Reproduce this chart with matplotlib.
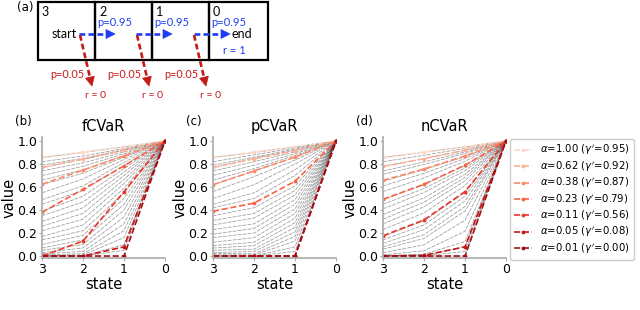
import matplotlib.pyplot as plt
import numpy as np
from matplotlib.patches import Rectangle, Polygon

plt.rcParams["font.family"] = ["DejaVu Sans"]

# x positions of the chain states (state 3 on the left)
states = [3, 2, 1, 0]

alpha_labels = ["1.00", "0.62", "0.38", "0.23", "0.11", "0.05", "0.01"]
gamma_labels = ["0.95", "0.92", "0.87", "0.79", "0.56", "0.08", "0.00"]

# highlighted alpha curves, values at states 3, 2, 1, 0
fcvar_red = [
    [0.857, 0.903, 0.950, 1.0],
    [0.770, 0.843, 0.919, 1.0],
    [0.625, 0.747, 0.870, 1.0],
    [0.380, 0.580, 0.783, 1.0],
    [0.000, 0.130, 0.560, 1.0],
    [0.000, 0.000, 0.080, 1.0],
    [0.000, 0.000, 0.000, 1.0],
]
pcvar_red = [
    [0.857, 0.903, 0.950, 1.0],
    [0.770, 0.845, 0.915, 1.0],
    [0.620, 0.740, 0.860, 1.0],
    [0.390, 0.460, 0.650, 1.0],
    [0.000, 0.000, 0.000, 1.0],
    [0.000, 0.000, 0.000, 1.0],
    [0.000, 0.000, 0.000, 1.0],
]
ncvar_red = [
    [0.857, 0.903, 0.950, 1.0],
    [0.779, 0.846, 0.920, 1.0],
    [0.658, 0.757, 0.870, 1.0],
    [0.493, 0.624, 0.790, 1.0],
    [0.176, 0.314, 0.560, 1.0],
    [0.001, 0.006, 0.080, 1.0],
    [0.000, 0.000, 0.000, 1.0],
]

# background curves (gray), values at states 3, 2, 1, 0
fcvar_gray = [
    [0.857, 0.90, 0.950, 1.0], [0.82, 0.87, 0.935, 1.0], [0.79, 0.85, 0.925, 1.0],
    [0.77, 0.84, 0.920, 1.0], [0.74, 0.81, 0.905, 1.0], [0.70, 0.78, 0.890, 1.0],
    [0.66, 0.75, 0.875, 1.0], [0.62, 0.72, 0.860, 1.0], [0.55, 0.67, 0.840, 1.0],
    [0.49, 0.61, 0.815, 1.0], [0.45, 0.57, 0.790, 1.0], [0.39, 0.52, 0.760, 1.0],
    [0.35, 0.47, 0.730, 1.0], [0.30, 0.42, 0.700, 1.0], [0.26, 0.37, 0.665, 1.0],
    [0.22, 0.32, 0.630, 1.0], [0.17, 0.27, 0.590, 1.0], [0.14, 0.22, 0.550, 1.0],
    [0.10, 0.18, 0.500, 1.0], [0.07, 0.14, 0.450, 1.0], [0.05, 0.10, 0.400, 1.0],
    [0.03, 0.07, 0.340, 1.0], [0.02, 0.04, 0.280, 1.0], [0.01, 0.02, 0.220, 1.0],
    [0.00, 0.01, 0.160, 1.0], [0.00, 0.00, 0.100, 1.0], [0.00, 0.00, 0.050, 1.0],
]
pcvar_gray = [
    [0.857, 0.90, 0.950, 1.0], [0.82, 0.88, 0.940, 1.0], [0.79, 0.86, 0.930, 1.0],
    [0.77, 0.85, 0.920, 1.0], [0.74, 0.82, 0.905, 1.0], [0.70, 0.79, 0.890, 1.0],
    [0.66, 0.76, 0.875, 1.0], [0.62, 0.74, 0.860, 1.0], [0.56, 0.69, 0.835, 1.0],
    [0.50, 0.62, 0.800, 1.0], [0.45, 0.55, 0.750, 1.0], [0.42, 0.50, 0.700, 1.0],
    [0.35, 0.42, 0.610, 1.0], [0.31, 0.37, 0.570, 1.0], [0.27, 0.33, 0.530, 1.0],
    [0.23, 0.28, 0.490, 1.0], [0.19, 0.24, 0.450, 1.0], [0.16, 0.20, 0.410, 1.0],
    [0.12, 0.16, 0.370, 1.0], [0.09, 0.12, 0.330, 1.0], [0.07, 0.09, 0.290, 1.0],
    [0.05, 0.06, 0.250, 1.0], [0.03, 0.04, 0.210, 1.0], [0.02, 0.02, 0.170, 1.0],
    [0.01, 0.01, 0.130, 1.0], [0.00, 0.00, 0.080, 1.0], [0.00, 0.00, 0.040, 1.0],
]
ncvar_gray = [
    [0.857, 0.903, 0.950, 1.0], [0.82, 0.876, 0.936, 1.0], [0.78, 0.847, 0.920, 1.0],
    [0.74, 0.818, 0.905, 1.0], [0.71, 0.796, 0.892, 1.0], [0.65, 0.750, 0.866, 1.0],
    [0.61, 0.719, 0.848, 1.0], [0.56, 0.679, 0.824, 1.0], [0.49, 0.621, 0.788, 1.0],
    [0.45, 0.587, 0.766, 1.0], [0.41, 0.552, 0.743, 1.0], [0.36, 0.506, 0.711, 1.0],
    [0.32, 0.468, 0.684, 1.0], [0.28, 0.428, 0.654, 1.0], [0.23, 0.375, 0.613, 1.0],
    [0.17, 0.307, 0.554, 1.0], [0.14, 0.270, 0.519, 1.0], [0.11, 0.229, 0.479, 1.0],
    [0.08, 0.186, 0.431, 1.0], [0.06, 0.153, 0.391, 1.0], [0.03, 0.097, 0.311, 1.0],
    [0.01, 0.046, 0.215, 1.0], [0.002, 0.016, 0.126, 1.0], [0.00, 0.006, 0.080, 1.0],
    [0.00, 0.002, 0.040, 1.0], [0.00, 0.000, 0.000, 1.0],
]

red_colors = plt.cm.Reds(np.linspace(0.16, 0.88, len(alpha_labels)))
BLUE = "#1f3cf5"
DRED = "#c41a1a"


def draw_panel(ax, gray, red, title, tag):
    for row in gray:
        ax.plot(states, row, color="k", lw=0.55, alpha=0.4, ls=(0, (5, 1.5)))
    handles = []
    for row, c, a, g in zip(red, red_colors, alpha_labels, gamma_labels):
        h, = ax.plot(states, row, color=c, lw=1.2, ls="--", marker=".", ms=3.5,
                     label=rf"$\alpha$={a} ($\gamma'$={g})")
        handles.append(h)
    ax.set_xlim(3, 0)
    ax.set_ylim(-0.017, 1.035)
    ax.set_xticks(states)
    ax.set_yticks([0.0, 0.2, 0.4, 0.6, 0.8, 1.0])
    ax.set_title(title, fontsize=10.5, pad=4)
    ax.set_xlabel("state", fontsize=10.5, labelpad=0.5)
    ax.set_ylabel("value", fontsize=10.5, labelpad=0.5)
    for s in ("top", "right"):
        ax.spines[s].set_visible(False)
    for s in ("left", "bottom"):
        ax.spines[s].set_color("#b0b0b0")
        ax.spines[s].set_linewidth(1.3)
    ax.tick_params(labelsize=9, color="#b0b0b0", length=2.5, pad=1)
    ax.text(-0.22, 1.1, tag, transform=ax.transAxes, fontsize=8.5)
    return handles


fig = plt.figure(figsize=(6.4, 3.1), dpi=100)

# ---- (a) chain diagram, drawn in pixel coordinates ----
ax_a = fig.add_axes([0, 1 - 110 / 310, 1, 110 / 310])
ax_a.set_xlim(0, 640)
ax_a.set_ylim(110, 0)
ax_a.axis("off")
dfont = ["Lato", "DejaVu Sans"]

edges = [37.5, 95, 152, 209, 268]
for i, name in enumerate(["3", "2", "1", "0"]):
    ax_a.add_patch(Rectangle((edges[i], 2), edges[i + 1] - edges[i], 58,
                             fill=False, lw=1.6, ec="k"))
    ax_a.text(edges[i] + 4, 12, name, fontsize=9, family=dfont, va="center")

ax_a.text(17, 7, "(a)", fontsize=8.5, va="center")
ax_a.text(52, 34, "start", fontsize=9, family=dfont, va="center")
ax_a.text(231, 34, "end", fontsize=9, family=dfont, va="center")
ax_a.text(223, 50, "r = 1", fontsize=8, family=dfont, va="center", color=BLUE)


def arrow(x0, y0, x1, y1, color, hl=9, hw=4.5):
    d = np.array([x1 - x0, y1 - y0], float)
    d /= np.hypot(*d)
    n = np.array([-d[1], d[0]])
    base = np.array([x1, y1]) - hl * d
    ax_a.plot([x0, base[0]], [y0, base[1]], color=color, lw=1.9, ls=(0, (2.2, 1.2)))
    ax_a.add_patch(Polygon([base + hw * n, (x1, y1), base - hw * n],
                           closed=True, fc=color, ec=color, lw=0.5))


for x0, x1 in [(79, 115), (136, 172), (194, 230)]:
    arrow(x0, 34, x1, 34, BLUE)
for x0 in [80, 137, 194]:
    arrow(x0, 35, x0 + 12, 86, DRED)

for x in [97, 154, 211]:
    ax_a.text(x, 23, "p=0.95", fontsize=8, family=dfont, va="center", color=BLUE)
for x in [84, 141, 198]:
    ax_a.text(x, 75, "p=0.05", fontsize=7.8, family=dfont, va="center",
              ha="right", color=DRED)
for x in [85, 142, 200]:
    ax_a.text(x, 96, "r = 0", fontsize=7.5, family=dfont, va="center", color=DRED)

# ---- (b)-(d) value curves ----
bottom = 1 - 258 / 310
height = 121 / 310
ax_b = fig.add_axes([42 / 640, bottom, 123 / 640, height])
ax_c = fig.add_axes([213 / 640, bottom, 123 / 640, height])
ax_d = fig.add_axes([383 / 640, bottom, 123 / 640, height])

draw_panel(ax_b, fcvar_gray, fcvar_red, "fCVaR", "(b)")
draw_panel(ax_c, pcvar_gray, pcvar_red, "pCVaR", "(c)")
handles = draw_panel(ax_d, ncvar_gray, ncvar_red, "nCVaR", "(d)")

ax_d.legend(handles=handles, loc="upper left", bbox_to_anchor=(1.03, 0.985),
            fontsize=7.3, labelspacing=0.2, handlelength=1.8, borderpad=0.4,
            handletextpad=0.8, borderaxespad=0, framealpha=1)

fig.savefig("out.png", dpi=100)
